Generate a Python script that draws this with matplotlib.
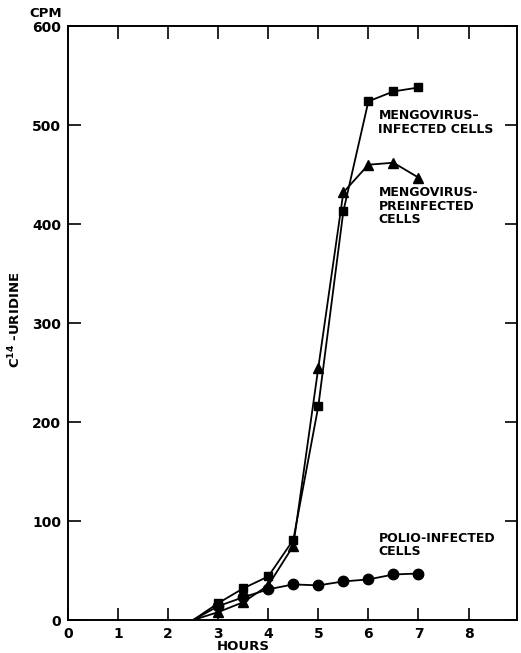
import matplotlib.pyplot as plt

plt.rcParams["font.family"] = ["DejaVu Sans"]
plt.rcParams["font.weight"] = "bold"

# hours after infection; the first point (2.5 h) is the baseline, no marker
hours = [2.5, 3, 3.5, 4, 4.5, 5, 5.5, 6, 6.5, 7]
mengo_infected = [0, 17, 32, 44, 81, 216, 413, 524, 534, 538]
mengo_preinfected = [0, 8, 18, 35, 75, 255, 432, 460, 462, 447]
polio_infected = [0, 14, 23, 31, 36, 35, 39, 41, 46, 47]

x_ticks = [0, 1, 2, 3, 4, 5, 6, 7, 8]
y_ticks = [0, 100, 200, 300, 400, 500, 600]

fig = plt.figure(figsize=(5.21, 6.53), dpi=100)
ax = fig.add_axes([0.1305, 0.0505, 0.862, 0.9095])

line_kw = dict(color="black", lw=1.3, markevery=range(1, len(hours)))
ax.plot(hours, mengo_infected, marker="s", ms=5.5, **line_kw)
ax.plot(hours, mengo_preinfected, marker="^", ms=6.5, **line_kw)
ax.plot(hours, polio_infected, marker="o", ms=7.5, **line_kw)

ax.set_xlim(0, 8.97)
ax.set_ylim(0, 600)
ax.set_xticks(x_ticks)
ax.set_yticks(y_ticks)

ax.tick_params(axis="both", direction="in", length=9, width=1.2,
               labelsize=10, top=True, right=True, pad=5)
for s in ax.spines.values():
    s.set_linewidth(1.4)

ax.set_xlabel("HOURS", fontsize=9.5, fontweight="bold")
ax.xaxis.set_label_coords(0.39, -0.033)
ax.set_ylabel("C$^{\\mathbf{14}}$ -URIDINE", fontsize=9.5, fontweight="bold")
ax.yaxis.set_label_coords(-0.1, 0.505)
ax.text(-0.45, 606, "CPM", fontsize=9.5, fontweight="bold", ha="center", va="bottom")

txt_kw = dict(fontsize=9, fontweight="bold", ha="left", va="top", linespacing=1.05)
ax.text(6.2, 516, "MENGOVIRUS\u2013\nINFECTED CELLS", **txt_kw)
ax.text(6.2, 438, "MENGOVIRUS-\nPREINFECTED\nCELLS", **txt_kw)
ax.text(6.2, 89, "POLIO-INFECTED\nCELLS", **txt_kw)

fig.savefig("out.png", dpi=100)
